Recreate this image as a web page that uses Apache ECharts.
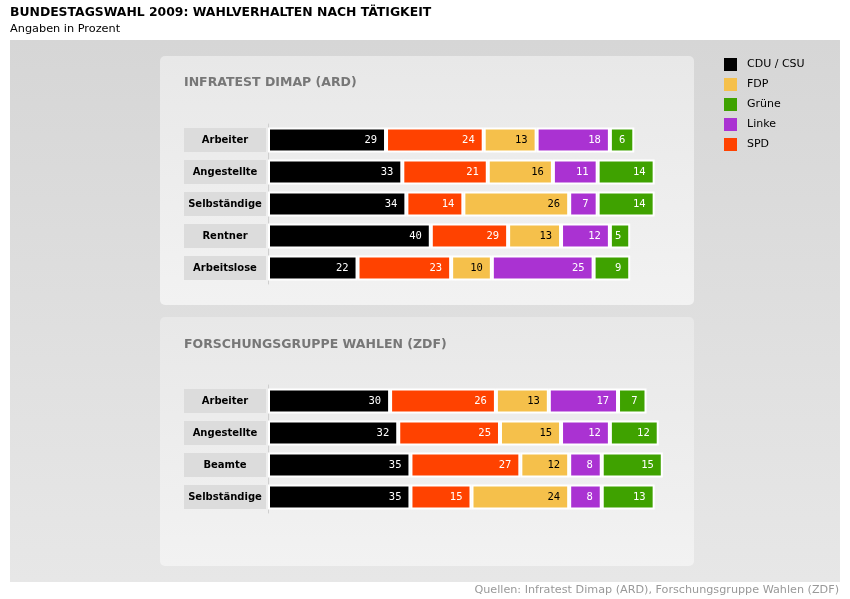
<!DOCTYPE html>
<html><head><meta charset="utf-8">
<script src="https://cdn.jsdelivr.net/npm/echarts@6/dist/echarts.min.js"></script>
<style>html,body{margin:0;padding:0;background:#fff}#c{width:850px;height:599px}</style>
</head><body><div id="c"></div>
<script>
// ---- data ----
const ardCategories = ['Arbeiter', 'Angestellte', 'Selbständige', 'Rentner', 'Arbeitslose'];
const ardCDU   = [29, 33, 34, 40, 22];
const ardSPD   = [24, 21, 14, 29, 23];       // printed values
const ardSPDBar = [24, 21, 14, 19, 23];      // bar lengths as drawn in the reference
const ardFDP   = [13, 16, 26, 13, 10];
const ardLinke = [18, 11, 7, 12, 25];
const ardGruene = [6, 14, 14, 5, 9];

const zdfCategories = ['Arbeiter', 'Angestellte', 'Beamte', 'Selbständige'];
const zdfCDU   = [30, 32, 35, 35];
const zdfSPD   = [26, 25, 27, 15];
const zdfFDP   = [13, 15, 12, 24];
const zdfLinke = [17, 12, 8, 8];
const zdfGruene = [7, 12, 15, 13];

const legendOrder = ['CDU / CSU', 'FDP', 'Grüne', 'Linke', 'SPD'];

const colors = {
  'CDU / CSU': '#000000', 'SPD': '#ff4200', 'FDP': '#f5c04b', 'Linke': '#aa32d2', 'Grüne': '#3fa200'
};
const labelColors = {
  'CDU / CSU': '#ffffff', 'SPD': '#ffffff', 'FDP': '#000000', 'Linke': '#ffffff', 'Grüne': '#ffffff'
};

const chart = echarts.init(document.getElementById('c'), null, {renderer: 'canvas'});

function mkSeries(name, barVals, labelVals, gi) {
  return {
    name: name, type: 'bar', stack: 'g' + gi,
    xAxisIndex: gi, yAxisIndex: gi,
    barWidth: 25,
    data: barVals,
    itemStyle: {color: colors[name], borderColor: '#ffffff', borderWidth: 2},
    label: {
      show: true, position: 'insideRight', distance: 9,
      color: labelColors[name], fontFamily: 'DejaVu Sans Mono', fontSize: 10.5,
      formatter: p => String(labelVals[p.dataIndex])
    },
    emphasis: {disabled: true}
  };
}

const series = [
  mkSeries('CDU / CSU', ardCDU, ardCDU, 0),
  mkSeries('SPD', ardSPDBar, ardSPD, 0),
  mkSeries('FDP', ardFDP, ardFDP, 0),
  mkSeries('Linke', ardLinke, ardLinke, 0),
  mkSeries('Grüne', ardGruene, ardGruene, 0),
  mkSeries('CDU / CSU', zdfCDU, zdfCDU, 1),
  mkSeries('SPD', zdfSPD, zdfSPD, 1),
  mkSeries('FDP', zdfFDP, zdfFDP, 1),
  mkSeries('Linke', zdfLinke, zdfLinke, 1),
  mkSeries('Grüne', zdfGruene, zdfGruene, 1)
];

function catAxis(cats, gi) {
  return {
    type: 'category', gridIndex: gi, data: cats, inverse: true,
    axisTick: {show: false},
    axisLine: {show: true, lineStyle: {color: '#cfcfcf', width: 1}},
    axisLabel: {
      margin: 2,
      formatter: v => '{b|' + v + '}',
      rich: {b: {width: 82, height: 24, lineHeight: 24, align: 'center',
        backgroundColor: '#dcdcdc', color: '#000', fontWeight: 'bold',
        fontFamily: 'DejaVu Sans', fontSize: 10}}
    }
  };
}
function valAxis(gi) {
  return {type: 'value', gridIndex: gi, min: 0, max: 100, show: false};
}

const bgGrad = new echarts.graphic.LinearGradient(0, 0, 0, 1, [
  {offset: 0, color: '#d6d6d6'}, {offset: 1, color: '#e7e7e7'}]);
const panelGrad = () => new echarts.graphic.LinearGradient(0, 0, 0, 1, [
  {offset: 0, color: '#e8e8e8'}, {offset: 1, color: '#f2f2f2'}]);

const option = {
  animation: false,
  graphic: [
    {type: 'rect', z: -10, shape: {x: 10, y: 40, width: 830, height: 542}, style: {fill: bgGrad}},
    {type: 'rect', z: -9, shape: {x: 160, y: 56, width: 534, height: 249, r: 5}, style: {fill: panelGrad()}},
    {type: 'rect', z: -9, shape: {x: 160, y: 317, width: 534, height: 249, r: 5}, style: {fill: panelGrad()}},
    {type: 'text', z: 5, x: 10, y: 13, style: {text: 'BUNDESTAGSWAHL 2009: WAHLVERHALTEN NACH TÄTIGKEIT',
      fill: '#000', font: 'bold 12.4px "DejaVu Sans"', verticalAlign: 'middle'}},
    {type: 'text', z: 5, x: 10, y: 29, style: {text: 'Angaben in Prozent',
      fill: '#000', font: '11.3px "DejaVu Sans"', verticalAlign: 'middle'}},
    {type: 'text', z: 5, x: 184, y: 83, style: {text: 'INFRATEST DIMAP (ARD)',
      fill: '#777', font: 'bold 12.5px "DejaVu Sans"', verticalAlign: 'middle'}},
    {type: 'text', z: 5, x: 184, y: 345, style: {text: 'FORSCHUNGSGRUPPE WAHLEN (ZDF)',
      fill: '#777', font: 'bold 12.5px "DejaVu Sans"', verticalAlign: 'middle'}},
    {type: 'text', z: 5, x: 839, y: 590, style: {text: 'Quellen: Infratest Dimap (ARD), Forschungsgruppe Wahlen (ZDF)',
      fill: '#999', font: '11.2px "DejaVu Sans"', verticalAlign: 'middle', align: 'right'}}
  ],
  legend: {
    data: legendOrder, orient: 'vertical', left: 724, top: 58, padding: 0,
    icon: 'rect', itemWidth: 13, itemHeight: 13, itemGap: 7,
    selectedMode: false,
    itemStyle: {borderWidth: 0},
    textStyle: {color: '#000', fontFamily: 'DejaVu Sans', fontSize: 11, lineHeight: 13, padding: [0, 0, 0, 5]}
  },
  grid: [
    {left: 268, top: 124, width: 407, height: 160},
    {left: 268, top: 385, width: 407, height: 128}
  ],
  xAxis: [valAxis(0), valAxis(1)],
  yAxis: [catAxis(ardCategories, 0), catAxis(zdfCategories, 1)],
  series: series
};
chart.setOption(option);
</script>
</body></html>
